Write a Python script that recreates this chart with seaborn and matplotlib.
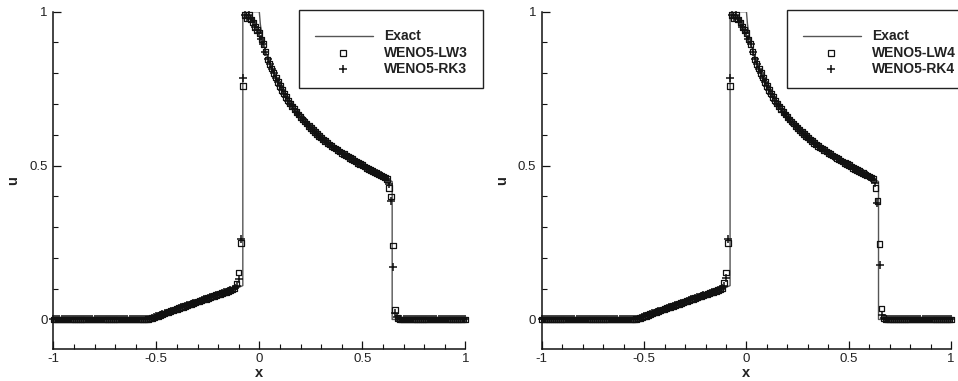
import numpy as np
import matplotlib
matplotlib.use("Agg")
import matplotlib.pyplot as plt
from matplotlib.ticker import MultipleLocator, FixedLocator, FixedFormatter
from matplotlib.patches import Rectangle
from matplotlib.lines import Line2D
import seaborn as sns

# ---------------- data ----------------
# cell positions of the numerical solution (dx = 0.01)
x_grid = np.round(np.linspace(-1.0, 1.0, 201), 2)

# x = -1.00 ... -0.55
u_zero_left = [0.0, 0.0, 0.0, 0.0, 0.0, 0.0, 0.0, 0.0, 0.0, 0.0,
               0.0, 0.0, 0.0, 0.0, 0.0, 0.0, 0.0, 0.0, 0.0, 0.0,
               0.0, 0.0, 0.0, 0.0, 0.0, 0.0, 0.0, 0.0, 0.0, 0.0,
               0.0, 0.0, 0.0, 0.0, 0.0, 0.0, 0.0, 0.0, 0.0, 0.0,
               0.0, 0.0, 0.0, 0.0, 0.0, 0.0]
# x = -0.54 ... -0.12
u_fan_left = [0.001, 0.003, 0.005, 0.007, 0.010, 0.012, 0.015, 0.017, 0.020, 0.022,
              0.025, 0.027, 0.029, 0.032, 0.034, 0.037, 0.039, 0.041, 0.044, 0.046,
              0.048, 0.051, 0.053, 0.055, 0.058, 0.060, 0.062, 0.065, 0.067, 0.069,
              0.072, 0.074, 0.076, 0.079, 0.081, 0.083, 0.086, 0.088, 0.090, 0.093,
              0.095, 0.098, 0.101]
# x = -0.07 ... -0.01
u_peak = [0.99, 0.98, 0.99, 0.975, 0.965, 0.95, 0.94]
# x = 0.00 ... 0.62
u_fan_right = [0.930, 0.910, 0.895, 0.870, 0.845, 0.830, 0.815, 0.800, 0.786, 0.771,
               0.758, 0.746, 0.734, 0.722, 0.711, 0.701, 0.692, 0.683, 0.674, 0.666,
               0.658, 0.650, 0.643, 0.636, 0.629, 0.622, 0.615, 0.609, 0.603, 0.597,
               0.591, 0.585, 0.580, 0.574, 0.569, 0.564, 0.559, 0.555, 0.550, 0.546,
               0.541, 0.537, 0.533, 0.529, 0.525, 0.521, 0.517, 0.513, 0.509, 0.505,
               0.501, 0.497, 0.493, 0.489, 0.486, 0.482, 0.478, 0.475, 0.471, 0.468,
               0.464, 0.461, 0.457]
# x = 0.68 ... 1.00
u_zero_right = [0.0, 0.0, 0.0, 0.0, 0.0, 0.0, 0.0, 0.0, 0.0, 0.0,
                0.0, 0.0, 0.0, 0.0, 0.0, 0.0, 0.0, 0.0, 0.0, 0.0,
                0.0, 0.0, 0.0, 0.0, 0.0, 0.0, 0.0, 0.0, 0.0, 0.0,
                0.0, 0.0, 0.0]

# values across the two jumps: x = -0.11 ... -0.08  and  x = 0.63 ... 0.67
lw3_jump_left = [0.117, 0.152, 0.249, 0.758]
rk3_jump_left = [0.108, 0.133, 0.260, 0.786]
lw3_jump_right = [0.427, 0.400, 0.240, 0.030, 0.005]
rk3_jump_right = [0.440, 0.385, 0.170, 0.020, 0.008]

lw4_jump_left = [0.118, 0.152, 0.249, 0.758]
rk4_jump_left = [0.109, 0.134, 0.260, 0.783]
lw4_jump_right = [0.428, 0.384, 0.246, 0.035, 0.004]
rk4_jump_right = [0.443, 0.378, 0.178, 0.013, 0.006]

# exact solution
exact_x = [-1.0, -0.545, -0.52, -0.5, -0.45, -0.4, -0.3, -0.2, -0.1, -0.08, -0.08,
           0.0, 0.005, 0.01, 0.02, 0.04, 0.07, 0.10, 0.15, 0.20, 0.26, 0.32, 0.40,
           0.46, 0.52, 0.58, 0.645, 0.645, 1.0]
exact_u = [0.0, 0.0, 0.004, 0.009, 0.021, 0.033, 0.057, 0.081, 0.104, 0.110, 1.0,
           1.0, 0.96, 0.935, 0.90, 0.85, 0.80, 0.757, 0.70, 0.657, 0.615, 0.58, 0.541,
           0.517, 0.493, 0.471, 0.448, 0.0, 0.0]

panels = [
    ("WENO5-LW3", "WENO5-RK3", lw3_jump_left, lw3_jump_right, rk3_jump_left, rk3_jump_right),
    ("WENO5-LW4", "WENO5-RK4", lw4_jump_left, lw4_jump_right, rk4_jump_left, rk4_jump_right),
]

x_ticks = [-1, -0.5, 0, 0.5, 1]
x_ticklabels = ["-1", "-0.5", "0", "0.5", "1"]
y_ticks = [0, 0.5, 1]
y_ticklabels = ["0", "0.5", "1"]


def series(jl, jr):
    return np.array(u_zero_left + u_fan_left + jl + u_peak + u_fan_right + jr + u_zero_right)


# ---------------- figure ----------------
W, H = 958, 381
sns.set_theme(style="ticks")
plt.rcParams["font.family"] = ["Liberation Sans", "DejaVu Sans"]
plt.rcParams["axes.unicode_minus"] = False

fig = plt.figure(figsize=(W / 100, H / 100), dpi=100)
fig.patch.set_facecolor("white")


def fx(px):
    return px / W


def fy(py):
    return 1 - py / H


axes_px = [(53.3, 465.3), (541.7, 951.2)]
top_px, bot_px = 11.7, 349.3
ymin = -0.097

for k, (ax_px, spec) in enumerate(zip(axes_px, panels)):
    name_sq, name_pl, jl_sq, jr_sq, jl_pl, jr_pl = spec
    u_sq = series(jl_sq, jr_sq)
    u_pl = series(jl_pl, jr_pl)

    ax = fig.add_axes([fx(ax_px[0]), fy(bot_px), (ax_px[1] - ax_px[0]) / W, (bot_px - top_px) / H])
    ax.set_facecolor("white")

    sns.lineplot(x=exact_x, y=exact_u, sort=False, estimator=None, color="#555555",
                 linewidth=1.0, ax=ax, legend=False, zorder=2)
    sns.scatterplot(x=x_grid, y=u_sq, marker="s", s=16, facecolor="none", edgecolor="#111111",
                    linewidth=0.9, ax=ax, clip_on=False, zorder=3, legend=False)
    sns.scatterplot(x=x_grid, y=u_pl, marker="+", s=32, color="#111111", edgecolor="#111111",
                    linewidth=1.1, ax=ax, clip_on=False, zorder=4, legend=False)

    ax.set_xlim(-1, 1)
    ax.set_ylim(ymin, 1)
    ax.xaxis.set_major_locator(FixedLocator(x_ticks))
    ax.xaxis.set_major_formatter(FixedFormatter(x_ticklabels))
    ax.yaxis.set_major_locator(FixedLocator(y_ticks))
    ax.yaxis.set_major_formatter(FixedFormatter(y_ticklabels))
    ax.xaxis.set_minor_locator(MultipleLocator(0.1))
    ax.yaxis.set_minor_locator(MultipleLocator(0.1))

    for s in ("top", "right"):
        ax.spines[s].set_visible(False)
    for s in ("left", "bottom"):
        ax.spines[s].set_linewidth(1.1)
        ax.spines[s].set_color("#111111")

    ax.tick_params(which="major", direction="in", length=6, width=0.9, color="#111111",
                   labelsize=9.5, labelcolor="#222222", pad=3)
    ax.tick_params(which="minor", direction="in", length=3.6, width=0.8, color="#111111")
    ax.tick_params(axis="y", which="major", pad=4)

    ax.set_xlabel("x", fontsize=10.5, fontweight="bold", color="#222222")
    ax.set_ylabel("u", fontsize=10.5, fontweight="bold", color="#222222")
    ax.xaxis.set_label_coords(0.5, -0.05)
    ax.yaxis.set_label_coords(-0.08, 0.5)

    # legend box (drawn in figure pixels)
    dx = ax_px[0] - axes_px[0][0]
    bx0, bx1, by0, by1 = 299 + dx, 483 + dx, 10, 88
    fig.add_artist(Rectangle((fx(bx0), fy(by1)), (bx1 - bx0) / W, (by1 - by0) / H,
                             transform=fig.transFigure, fill=False, edgecolor="#222222",
                             linewidth=1.0, clip_on=False))
    rows = [36, 52.7, 69.3]
    fig.add_artist(Line2D([fx(315 + dx), fx(373 + dx)], [fy(rows[0]), fy(rows[0])],
                          transform=fig.transFigure, color="#555555", linewidth=1.0))
    fig.add_artist(Line2D([fx(343 + dx)], [fy(rows[1])], transform=fig.transFigure,
                          marker="s", markersize=4, markerfacecolor="none",
                          markeredgecolor="#111111", markeredgewidth=0.9, linestyle="none"))
    fig.add_artist(Line2D([fx(343 + dx)], [fy(rows[2])], transform=fig.transFigure,
                          marker="+", markersize=5.7, color="#111111",
                          markeredgewidth=1.1, linestyle="none"))
    for r, lab in zip(rows, ["Exact", name_sq, name_pl]):
        fig.text(fx(384 + dx), fy(r), lab, fontsize=10, fontweight="bold", color="#222222",
                 ha="left", va="center")

fig.savefig("out.png", dpi=100, facecolor="white")
